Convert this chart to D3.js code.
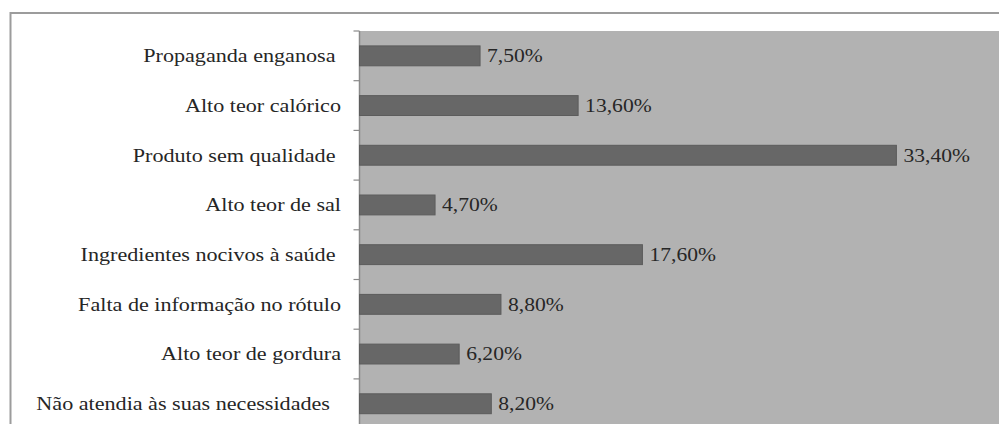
<!DOCTYPE html>
<html>
<head>
<meta charset="utf-8">
<script src="https://cdn.jsdelivr.net/npm/d3@7"></script>
<style>
  html, body { margin: 0; padding: 0; background: #ffffff; }
  svg { display: block; }
  text { white-space: pre; }
</style>
</head>
<body>
<svg id="chart" width="999" height="424"></svg>
<script>
// Reasons given (percent of answers)
const categories = [
  "Propaganda enganosa ",
  "Alto teor calórico",
  "Produto sem qualidade ",
  "Alto teor de sal",
  "Ingredientes nocivos à saúde ",
  "Falta de informação no rótulo",
  "Alto teor de gordura",
  "Não atendia às suas necessidades  "
];
const values = [7.5, 13.6, 33.4, 4.7, 17.6, 8.8, 6.2, 8.2];
const valueLabels = ["7,50%", "13,60%", "33,40%", "4,70%", "17,60%", "8,80%", "6,20%", "8,20%"];
const xDomain = [0, 40];

const svg = d3.select("#chart");
const W = 999, H = 424;
const plot = { left: 359.5, top: 31, right: 1002.5, bottom: 428.6 };
const fontFamily = "Liberation Serif";
const fontSize = 18;
const textColor = "#262626";

// outer frame
svg.append("rect")
  .attr("x", 10.5).attr("y", 13)
  .attr("width", W).attr("height", H)
  .attr("fill", "#ffffff")
  .attr("stroke", "#9c9c9c").attr("stroke-width", 2);

const x = d3.scaleLinear().domain(xDomain).range([plot.left, plot.right]);
const y = d3.scaleBand()
  .domain(categories)
  .range([plot.top, plot.bottom])
  .paddingInner(0.6)
  .paddingOuter(0.3);

// plot area background
svg.append("rect")
  .attr("x", plot.left).attr("y", plot.top)
  .attr("width", plot.right - plot.left).attr("height", plot.bottom - plot.top)
  .attr("fill", "#b2b2b2");

// category axis: line and ticks on band boundaries
const step = y.step();
const boundaries = d3.range(categories.length + 1).map(i => plot.top + i * step);
svg.append("line")
  .attr("x1", plot.left).attr("x2", plot.left)
  .attr("y1", plot.top).attr("y2", plot.bottom)
  .attr("stroke", "#8a8a8a").attr("stroke-width", 1.5);
svg.selectAll("line.tick").data(boundaries).join("line")
  .attr("class", "tick")
  .attr("x1", plot.left - 6).attr("x2", plot.left)
  .attr("y1", d => d).attr("y2", d => d)
  .attr("stroke", "#8a8a8a").attr("stroke-width", 1.2);

// bars
svg.selectAll("rect.bar").data(values).join("rect")
  .attr("class", "bar")
  .attr("x", x(0))
  .attr("y", (d, i) => y(categories[i]))
  .attr("width", d => x(d) - x(0))
  .attr("height", y.bandwidth())
  .attr("fill", "#676767")
  .attr("stroke", "#5c5c5c").attr("stroke-width", 1);

// category labels (wide serif lettering)
svg.selectAll("g.cat").data(categories).join("g")
  .attr("class", "cat")
  .attr("transform", d => `translate(341,${y(d) + y.bandwidth() / 2}) scale(1.23,1)`)
  .append("text")
  .attr("text-anchor", "end")
  .attr("dy", "0.35em")
  .attr("font-family", fontFamily)
  .attr("font-size", fontSize)
  .attr("fill", textColor)
  .text(d => d);

// value labels
svg.selectAll("g.val").data(values).join("g")
  .attr("class", "val")
  .attr("transform", (d, i) => `translate(${x(d) + 7},${y(categories[i]) + y.bandwidth() / 2}) scale(1.2,1)`)
  .append("text")
  .attr("dy", "0.35em")
  .attr("font-family", fontFamily)
  .attr("font-size", fontSize)
  .attr("fill", textColor)
  .text((d, i) => valueLabels[i]);
</script>
</body>
</html>
